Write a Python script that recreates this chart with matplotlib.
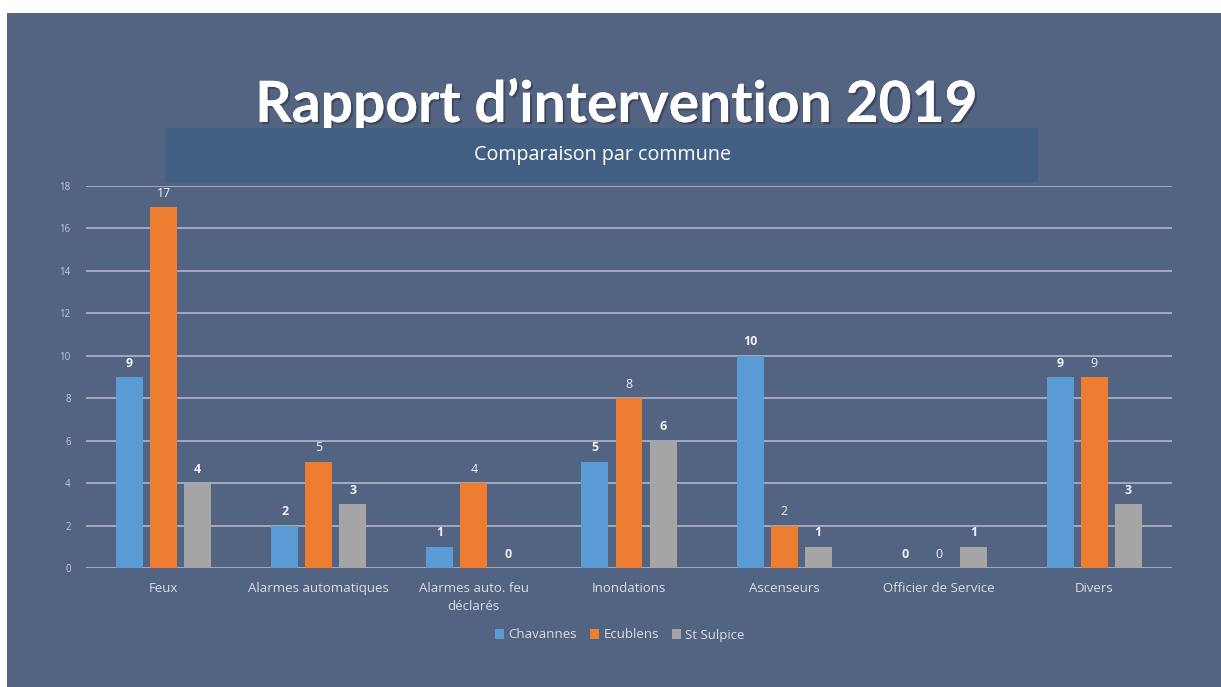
import numpy as np
import matplotlib.pyplot as plt
from matplotlib.patches import Rectangle
import matplotlib.patheffects as pe

# data
categories = ['Feux', 'Alarmes automatiques', 'Alarmes auto. feu\ndéclarés',
              'Inondations', 'Ascenseurs', 'Officier de Service', 'Divers']
chavannes = [9, 2, 1, 5, 10, 0, 9]
ecublens = [17, 5, 4, 8, 2, 0, 9]
st_sulpice = [4, 3, 0, 6, 1, 1, 3]
series_names = ['Chavannes', 'Ecublens', 'St Sulpice']

# colours
BG = '#526482'
BANNER = '#415f82'
COLORS = ['#5b9bd5', '#ed7d31', '#a5a5a5']
GRID = '#a9b1c1'
TXT = '#d9dde4'

W, H = 1221, 687
fig = plt.figure(figsize=(W / 100, H / 100), dpi=100)
fig.patch.set_facecolor('white')

# slide background
fig.patches.append(Rectangle((7 / W, 0), (W - 7) / W, (H - 13) / H,
                             transform=fig.transFigure, facecolor=BG,
                             edgecolor='none', zorder=0))

# title with a soft shadow
fig.text(617 / W, 1 - 122 / H, 'Rapport d\u2019intervention 2019', ha='center',
         va='baseline', fontsize=41, fontweight='bold', family='Lato',
         color='white', zorder=2,
         path_effects=[pe.withSimplePatchShadow(offset=(1.5, -1.5), shadow_rgbFace='#2a3448', alpha=0.6),
                       pe.Normal()])

# banner covering lower part of title
fig.patches.append(Rectangle((165 / W, 1 - 182 / H), (1038 - 165) / W, 54 / H,
                             transform=fig.transFigure, facecolor=BANNER,
                             edgecolor='none', zorder=3))
fig.text(603 / W, 1 - 155 / H, 'Comparaison par commune', ha='center', va='center',
         fontsize=14.2, family='Open Sans', color='white', zorder=4)

# chart
ax = fig.add_axes([86 / W, (H - 568) / H, 1086 / W, (568 - 186) / H])
ax.set_facecolor('none')
ax.set_zorder(5)

x = np.arange(len(categories))
step = 0.22
width = 0.174
all_series = [chavannes, ecublens, st_sulpice]
weights = ['bold', 'normal', 'bold']
for j, vals in enumerate(all_series):
    pos = x + (j - 1) * step
    bars = ax.bar(pos, vals, width, color=COLORS[j], label=series_names[j], zorder=3)
    for b, v in zip(bars, vals):
        ax.text(b.get_x() + b.get_width() / 2, v + 0.35, str(v), ha='center',
                va='bottom', fontsize=9, family='Open Sans', fontweight=weights[j],
                color='#f0f0f0')

ax.set_xlim(-0.5, len(categories) - 0.5)
ax.set_ylim(0, 18)
ax.set_yticks(np.arange(0, 19, 2))
ax.yaxis.grid(True, color=GRID, linewidth=1.3, zorder=0)
ax.set_axisbelow(True)
for s in ax.spines.values():
    s.set_visible(False)
ax.tick_params(axis='y', length=0, labelsize=7, labelcolor='#c3c9d4', pad=11)
ax.tick_params(axis='x', length=0, labelsize=9.5, labelcolor=TXT, pad=10)
ax.set_xticks(x)
ax.set_xticklabels(categories, family='Open Sans', linespacing=1.5)
for lab in ax.get_yticklabels():
    lab.set_family('Open Sans')

leg = fig.legend(loc='center', bbox_to_anchor=(620 / W, 1 - 635 / H), ncol=3,
                 frameon=False, handlelength=0.7, handleheight=0.7,
                 handletextpad=0.3, columnspacing=1.0,
                 prop={'family': 'Open Sans', 'size': 9.5})
for t in leg.get_texts():
    t.set_color(TXT)

fig.savefig('out.png', dpi=100, facecolor=fig.get_facecolor())
